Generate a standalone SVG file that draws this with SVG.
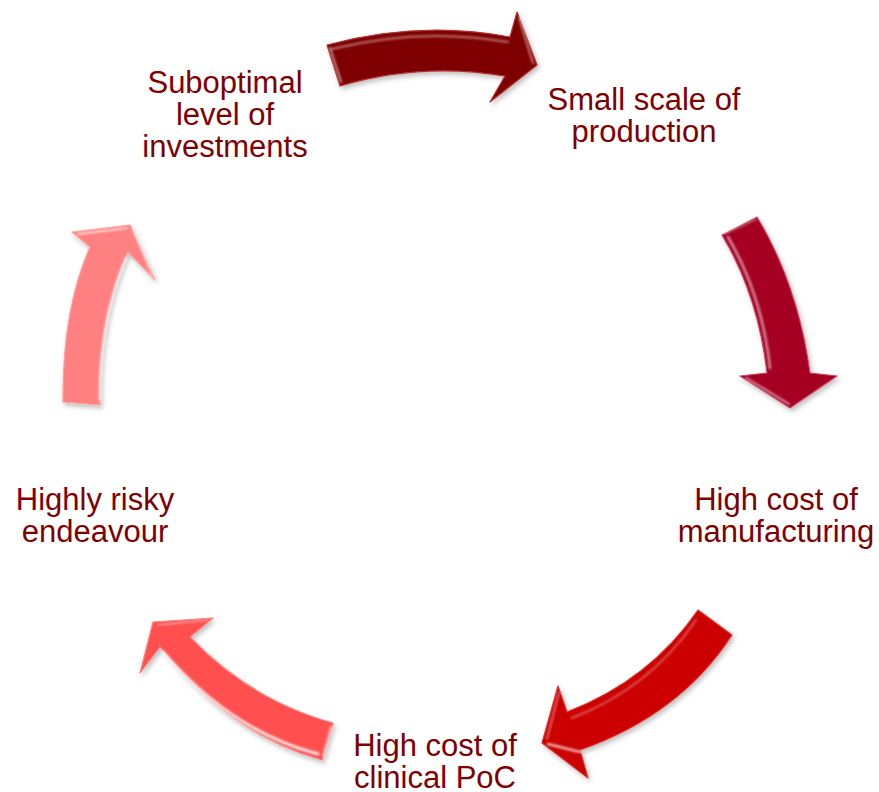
<svg xmlns="http://www.w3.org/2000/svg" width="879" height="792" viewBox="0 0 879 792">
  <style>
    .lbl { font-family: "Liberation Sans", Arial, sans-serif; font-size: 31px; fill: #800000; text-anchor: middle; }
    .arrow { filter: url(#shadow); stroke-linejoin: round; stroke-width: 1.2; }
    .shine { fill: none; stroke: #ffffff; stroke-linecap: round; filter: url(#soft); }
  </style>
  <defs>
    <filter id="shadow" x="-20%" y="-20%" width="140%" height="140%">
      <feDropShadow dx="2" dy="3" stdDeviation="2.5" flood-color="#000000" flood-opacity="0.25"/>
    </filter>
    <filter id="soft" x="-20%" y="-20%" width="140%" height="140%">
      <feGaussianBlur stdDeviation="1.2"/>
    </filter>
  </defs>

  <rect width="879" height="792" fill="#ffffff"/>

  <!-- cycle arrows -->
  <g id="connectors">
    <g id="arrow-top">
      <path class="arrow" fill="#7f0000" stroke="#b03030" d="M 327,45 Q 420,20 510,37 L 517,12 L 537,65 L 490,102 L 505,76 Q 420,62 340,86 Z"/>
      <path class="shine" stroke-width="2" stroke-opacity="0.45" d="M 332,49 Q 420,27 508,42"/>
      <path class="shine" stroke-width="2" stroke-opacity="0.6" d="M 330,48 L 341,82"/>
      <path class="shine" stroke-width="2" stroke-opacity="0.5" d="M 519,18 L 533,63"/>
    </g>
    <g id="arrow-right">
      <path class="arrow" fill="#a50021" stroke="#d04060" d="M 722,235 L 757,217 Q 798,285 810,373 L 837,376 L 790,408 L 740,376 L 767,373 Q 758,295 722,235 Z"/>
      <path class="shine" stroke-width="2.5" stroke-opacity="0.55" d="M 728,237 Q 762,295 770,368"/>
      <path class="shine" stroke-width="2" stroke-opacity="0.6" d="M 746,378 L 789,404"/>
      <path class="shine" stroke-width="1.5" stroke-opacity="0.45" d="M 724,234 L 756,219"/>
    </g>
    <g id="arrow-bottom-right">
      <path class="arrow" fill="#cc0000" stroke="#e03030" d="M 698,610 L 732,635 Q 680,715 580,750 L 588,778 L 542,743 L 558,686 L 567,712 Q 650,680 698,610 Z"/>
      <path class="shine" stroke-width="2" stroke-opacity="0.35" d="M 572,718 Q 650,688 696,620"/>
      <path class="shine" stroke-width="2.5" stroke-opacity="0.7" d="M 548,744 L 580,752"/>
      <path class="shine" stroke-width="1.5" stroke-opacity="0.5" d="M 559,692 L 547,739"/>
    </g>
    <g id="arrow-bottom-left">
      <path class="arrow" fill="#ff5050" stroke="#ff8080" d="M 333,723 L 322,760 Q 230,735 160,647 L 140,673 L 153,622 L 213,618 L 190,637 Q 250,700 333,723 Z"/>
      <path class="shine" stroke-width="3" stroke-opacity="0.85" d="M 163,652 Q 232,732 318,754"/>
      <path class="shine" stroke-width="2" stroke-opacity="0.6" d="M 331,727 L 323,756"/>
      <path class="shine" stroke-width="1.5" stroke-opacity="0.5" d="M 158,625 L 208,620"/>
    </g>
    <g id="arrow-left">
      <path class="arrow" fill="#ff8080" stroke="#ffa0a0" d="M 63,402 Q 62,310 90,247 L 72,232 L 130,225 L 155,280 L 128,252 Q 98,320 100,405 Z"/>
      <path class="shine" stroke-width="2.5" stroke-opacity="0.8" d="M 126,258 Q 99,322 100,400"/>
      <path class="shine" stroke-width="2" stroke-opacity="0.7" d="M 78,234 L 127,228"/>
      <path class="shine" stroke-width="1.5" stroke-opacity="0.6" d="M 133,230 L 152,276"/>
    </g>
  </g>

  <!-- stage labels -->
  <g id="node-investments">
    <text class="lbl" x="225" y="93">Suboptimal</text>
    <text class="lbl" x="225" y="125">level of</text>
    <text class="lbl" x="225" y="157">investments</text>
  </g>
  <g id="node-production">
    <text class="lbl" x="644" y="110">Small scale of</text>
    <text class="lbl" x="644" y="142">production</text>
  </g>
  <g id="node-manufacturing">
    <text class="lbl" x="776" y="510">High cost of</text>
    <text class="lbl" x="776" y="542">manufacturing</text>
  </g>
  <g id="node-clinical">
    <text class="lbl" x="435" y="756">High cost of</text>
    <text class="lbl" x="435" y="788">clinical PoC</text>
  </g>
  <g id="node-risky">
    <text class="lbl" x="95" y="510">Highly risky</text>
    <text class="lbl" x="95" y="542">endeavour</text>
  </g>
</svg>
